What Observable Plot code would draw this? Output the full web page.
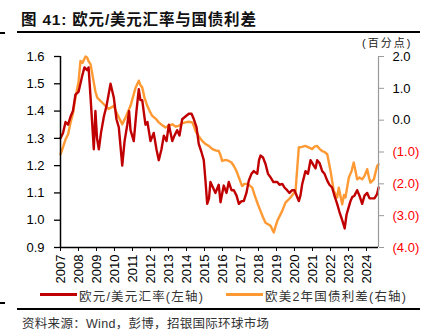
<!DOCTYPE html>
<html><head><meta charset="utf-8">
<script src="https://cdn.jsdelivr.net/npm/d3@7"></script>
<script src="https://cdn.jsdelivr.net/npm/@observablehq/plot@0.6"></script>
<style>
body{margin:0;background:#fff;}
#wrap{position:relative;width:430px;height:336px;overflow:hidden;background:#fff;font-family:"Liberation Sans","Noto Sans CJK SC",sans-serif;}
.abs{position:absolute;white-space:nowrap;}
.cjk{font-family:"Liberation Sans","Noto Sans CJK SC",sans-serif;}
</style>
</head><body>
<div id="wrap">
  <div class="abs cjk" style="left:21px;top:7px;font-size:15.5px;font-weight:bold;letter-spacing:0.8px;color:#111;">图 41: 欧元/美元汇率与国债利差</div>
  <div class="abs" style="left:17px;top:31px;width:403px;height:2px;background:#000;"></div>
  <div class="abs" style="left:0;top:32px;width:5px;height:2px;background:#000;"></div>
  <div class="abs cjk" style="left:362px;top:37px;font-size:11px;line-height:12px;letter-spacing:2px;color:#222;">(百分点)</div>
  <div id="chart" class="abs" style="left:0;top:36px;"></div>
  <div class="abs" style="left:40px;top:293px;width:37px;height:3px;background:#C00000;"></div>
  <div class="abs cjk" style="left:79px;top:286px;font-size:12.5px;letter-spacing:1.2px;color:#333;">欧元/美元汇率(左轴)</div>
  <div class="abs" style="left:226px;top:293px;width:37px;height:3px;background:#FF9933;"></div>
  <div class="abs cjk" style="left:265px;top:286px;font-size:12.5px;letter-spacing:1.2px;color:#333;">欧美2年国债利差(右轴)</div>
  <div class="abs" style="left:0;top:302px;width:5px;height:2px;background:#000;"></div>
  <div class="abs" style="left:17px;top:308px;width:403px;height:2px;background:#000;"></div>
  <div class="abs cjk" style="left:22px;top:313px;font-size:12.5px;letter-spacing:0.3px;color:#333;">资料来源：Wind，彭博，招银国际环球市场</div>
</div>
<script>
// ---- data (decimal years) ----
const fxYears = [2007.00,2007.14,2007.28,2007.42,2007.56,2007.69,2007.83,2008.00,2008.21,2008.33,2008.48,2008.56,2008.67,2008.85,2008.94,2009.03,2009.13,2009.25,2009.41,2009.56,2009.78,2009.96,2010.11,2010.24,2010.43,2010.56,2010.71,2010.81,2010.89,2011.07,2011.22,2011.35,2011.44,2011.54,2011.72,2011.83,2012.00,2012.18,2012.33,2012.46,2012.61,2012.74,2012.89,2013.02,2013.21,2013.33,2013.48,2013.61,2013.76,2013.94,2014.13,2014.28,2014.41,2014.56,2014.68,2014.83,2014.96,2015.06,2015.15,2015.25,2015.33,2015.47,2015.61,2015.79,2015.89,2016.07,2016.22,2016.35,2016.50,2016.63,2016.78,2016.91,2017.06,2017.18,2017.33,2017.46,2017.61,2017.74,2017.93,2018.03,2018.11,2018.25,2018.39,2018.53,2018.67,2018.83,2019.04,2019.17,2019.32,2019.44,2019.59,2019.72,2019.87,2020.00,2020.15,2020.24,2020.33,2020.43,2020.61,2020.75,2020.89,2021.07,2021.17,2021.26,2021.39,2021.54,2021.67,2021.82,2021.94,2022.09,2022.22,2022.37,2022.50,2022.65,2022.79,2022.89,2023.02,2023.11,2023.21,2023.33,2023.48,2023.61,2023.76,2023.89,2024.04,2024.17,2024.32,2024.44,2024.59,2024.67];
const fxValues = [1.30,1.32,1.36,1.35,1.38,1.40,1.46,1.47,1.53,1.56,1.55,1.56,1.45,1.26,1.40,1.30,1.26,1.32,1.38,1.42,1.50,1.45,1.37,1.34,1.20,1.29,1.35,1.40,1.33,1.29,1.40,1.48,1.44,1.44,1.35,1.36,1.29,1.32,1.26,1.22,1.26,1.31,1.29,1.35,1.29,1.31,1.33,1.31,1.37,1.38,1.39,1.39,1.37,1.34,1.28,1.25,1.22,1.14,1.06,1.08,1.14,1.12,1.10,1.13,1.066,1.127,1.10,1.14,1.11,1.11,1.09,1.06,1.07,1.07,1.10,1.145,1.17,1.18,1.17,1.22,1.237,1.23,1.206,1.17,1.157,1.14,1.14,1.13,1.133,1.12,1.11,1.10,1.11,1.11,1.085,1.07,1.09,1.133,1.18,1.17,1.22,1.20,1.19,1.22,1.21,1.18,1.17,1.145,1.13,1.12,1.09,1.06,1.03,1.00,0.97,1.02,1.05,1.07,1.085,1.09,1.11,1.09,1.06,1.09,1.10,1.08,1.08,1.08,1.096,1.12];

const spreadYears = [2007.00,2007.14,2007.28,2007.42,2007.56,2007.69,2007.83,2008.00,2008.11,2008.22,2008.39,2008.48,2008.56,2008.67,2008.75,2008.85,2008.94,2009.04,2009.41,2009.68,2009.96,2010.15,2010.43,2010.61,2010.89,2011.17,2011.35,2011.44,2011.54,2011.67,2011.82,2011.94,2012.09,2012.28,2012.46,2012.64,2012.83,2013.00,2013.21,2013.39,2013.57,2013.75,2013.94,2014.13,2014.32,2014.42,2014.50,2014.68,2014.87,2015.06,2015.24,2015.42,2015.61,2015.79,2015.89,2015.98,2016.17,2016.35,2016.50,2016.63,2016.78,2016.91,2017.09,2017.22,2017.37,2017.50,2017.65,2017.83,2017.97,2018.11,2018.25,2018.39,2018.67,2018.78,2018.85,2018.94,2019.04,2019.32,2019.50,2019.78,2020.06,2020.14,2020.24,2020.42,2020.61,2020.81,2020.98,2021.11,2021.26,2021.39,2021.54,2021.67,2021.82,2022.00,2022.18,2022.37,2022.46,2022.56,2022.65,2022.75,2022.83,2023.02,2023.17,2023.29,2023.39,2023.48,2023.61,2023.76,2023.89,2024.04,2024.14,2024.22,2024.41,2024.59,2024.67];
const spreadValues = [-1.07,-0.85,-0.60,-0.45,-0.07,0.20,0.71,1.20,1.86,1.80,2.00,1.97,1.85,1.76,1.50,1.18,0.90,0.71,0.50,0.35,0.45,0.19,-0.13,0.08,0.45,1.02,1.24,1.10,1.03,0.70,0.45,0.30,0.14,0.05,-0.07,-0.15,-0.23,-0.18,-0.13,-0.20,-0.18,-0.10,-0.07,-0.05,-0.07,-0.20,-0.34,-0.50,-0.65,-0.75,-0.81,-0.90,-0.95,-0.97,-1.10,-1.28,-1.25,-1.28,-1.33,-1.44,-1.60,-1.80,-2.07,-2.00,-2.00,-2.05,-2.12,-2.43,-2.65,-2.85,-3.05,-3.22,-3.32,-3.45,-3.53,-3.35,-3.17,-2.85,-2.59,-2.43,-2.22,-1.60,-0.86,-0.84,-0.81,-0.86,-0.91,-0.83,-0.81,-0.90,-0.97,-1.00,-1.07,-1.59,-2.22,-2.43,-2.12,-2.40,-2.64,-2.35,-2.43,-1.80,-1.60,-1.33,-1.60,-1.86,-1.80,-1.86,-1.75,-1.54,-1.80,-1.96,-1.86,-1.44,-1.39];

const yearTicks = d3.range(2007, 2025);
const yearLabels = yearTicks.map(String);
const leftTicks = [0.9, 1.0, 1.1, 1.2, 1.3, 1.4, 1.5, 1.6];
const leftLabels = ["0.9","1.0","1.1","1.2","1.3","1.4","1.5","1.6"];
const rightTicks = [2, 1, 0, -1, -2, -3, -4];
const rightLabels = ["2.0","1.0","0.0","(1.0)","(2.0)","(3.0)","(4.0)"];

// ---- build ----
const xEnd = 2024.667;
const leftDomain = [0.9, 1.6];
const rightDomain = [-4, 2];
const toLeft = v => leftDomain[0] + (v - rightDomain[0]) / (rightDomain[1] - rightDomain[0]) * (leftDomain[1] - leftDomain[0]);

const fx = fxYears.map((t, i) => ({t, v: fxValues[i]}));
const spread = spreadYears.map((t, i) => ({t, v: toLeft(spreadValues[i])}));
const rightPos = rightTicks.map(toLeft);
const rightLabelOf = new Map(rightPos.map((p, i) => [p, rightLabels[i]]));
const posRight = rightPos.filter((p, i) => rightTicks[i] >= 0);
const negRight = rightPos.filter((p, i) => rightTicks[i] < 0);
const leftLabelOf = new Map(leftTicks.map((p, i) => [p, leftLabels[i]]));
const yearLabelOf = new Map(yearTicks.map((p, i) => [p, yearLabels[i]]));

const chart = Plot.plot({
  width: 430,
  height: 253,
  marginTop: 20,
  marginBottom: 42,
  marginLeft: 60,
  marginRight: 52,
  style: {fontFamily: "Liberation Sans, Arial, sans-serif", fontSize: "13px", background: "transparent"},
  x: {domain: [2007, xEnd], axis: null},
  y: {domain: leftDomain, axis: null},
  marks: [
    Plot.line(spread, {x: "t", y: "v", stroke: "#FF9933", strokeWidth: 2.4, strokeLinejoin: "round"}),
    Plot.line(fx, {x: "t", y: "v", stroke: "#C00000", strokeWidth: 2.4, strokeLinejoin: "round"}),
    // left axis
    Plot.ruleX([2007], {y1: leftDomain[0], y2: leftDomain[1], stroke: "#000", strokeWidth: 1.5}),
    Plot.axisY(leftTicks, {anchor: "left", label: null, tickSize: 6, tickPadding: 10, stroke: "#000", strokeWidth: 1.3, fill: "#000", fontSize: 13, tickFormat: d => leftLabelOf.get(d)}),
    // right axis
    Plot.ruleX([xEnd], {y1: leftDomain[0], y2: leftDomain[1], stroke: "#9a9a9a", strokeWidth: 1.2}),
    Plot.axisY(posRight, {anchor: "right", label: null, tickSize: 5, tickPadding: 9, stroke: "#9a9a9a", fill: "#000", fontSize: 13, tickFormat: d => rightLabelOf.get(d)}),
    Plot.axisY(negRight, {anchor: "right", label: null, tickSize: 5, tickPadding: 9, stroke: "#9a9a9a", fill: "#FF0000", fontSize: 13, tickFormat: d => rightLabelOf.get(d)}),
    // bottom axis
    Plot.ruleY([leftDomain[0]], {x1: 2007, x2: xEnd, stroke: "#000", strokeWidth: 1.5}),
    Plot.axisX(yearTicks, {anchor: "bottom", label: null, tickSize: 4, tickPadding: 3, tickRotate: -90, stroke: "#000", fill: "#000", fontSize: 13, tickFormat: d => yearLabelOf.get(d)})
  ]
});
document.getElementById("chart").appendChild(chart);
</script>
</body></html>
